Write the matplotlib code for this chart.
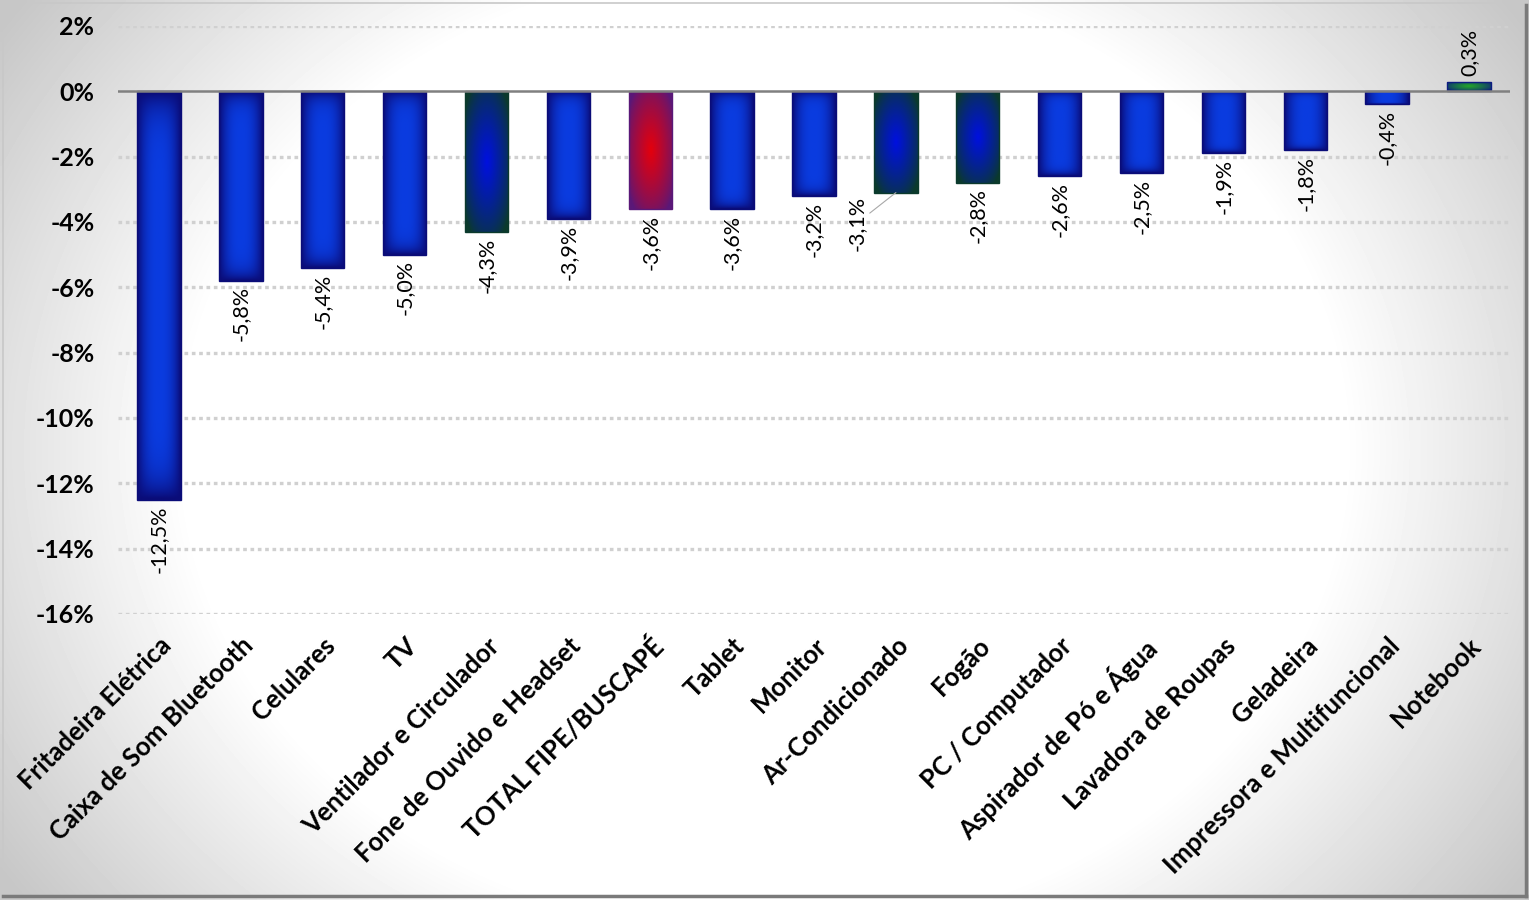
import numpy as np
import matplotlib
matplotlib.use("Agg")
import matplotlib.pyplot as plt
from matplotlib.patches import Rectangle
from matplotlib.colors import to_rgb
from matplotlib.ticker import FuncFormatter, MultipleLocator

plt.rcParams['font.family'] = ['Lato', 'DejaVu Sans']

# dados
categorias = ['Fritadeira Elétrica', 'Caixa de Som Bluetooth', 'Celulares', 'TV',
              'Ventilador e Circulador', 'Fone de Ouvido e Headset', 'TOTAL FIPE/BUSCAPÉ',
              'Tablet', 'Monitor', 'Ar-Condicionado', 'Fogão', 'PC / Computador',
              'Aspirador de Pó e Água', 'Lavadora de Roupas', 'Geladeira',
              'Impressora e Multifuncional', 'Notebook']
variacao = [-12.5, -5.8, -5.4, -5.0, -4.3, -3.9, -3.6, -3.6, -3.2, -3.1, -2.8,
            -2.6, -2.5, -1.9, -1.8, -0.4, 0.3]
estilo = ['azul', 'azul', 'azul', 'azul', 'verde', 'azul', 'vermelho', 'azul', 'azul',
          'verde', 'verde', 'azul', 'azul', 'azul', 'azul', 'azul', 'notebook']

# cores (borda, centro)
paleta = {
    'azul': ('#0a0c78', '#0a3ce0'),
    'verde': ('#0b3a2c', '#0010e0'),
    'vermelho': ('#5a1878', '#e4000c'),
    'notebook': ('#0c1c80', '#22a828'),
}


def gradiente(tipo, nx=60, ny=120):
    borda, centro = np.array(to_rgb(paleta[tipo][0])), np.array(to_rgb(paleta[tipo][1]))
    u = np.linspace(-1, 1, nx)[None, :]
    v = np.linspace(-1, 1, ny)[:, None]
    if tipo == 'azul':
        f = (1 - np.abs(u) ** 2.5) * (1 - np.abs(v) ** 10)
    else:
        f = np.clip(1 - np.sqrt(u ** 2 + v ** 2) / 1.25, 0, 1) ** 0.8
    return borda + (centro - borda) * f[..., None]


fig = plt.figure(figsize=(15.29, 9), dpi=100)

# fundo com vinheta cinza
bg = fig.add_axes([0, 0, 1, 1], zorder=-10)
gx, gy = np.meshgrid(np.linspace(0, 1, 400), np.linspace(0, 1, 240))
d = np.sqrt(((gx - 0.5) * 2) ** 2 + 0.5 * ((gy - 0.5) * 2) ** 2)
cinza = 1 - 0.22 * np.clip((d - 0.76) / 0.44, 0, 1) ** 1.0
bg.imshow(cinza, cmap='gray', vmin=0, vmax=1, aspect='auto', extent=(0, 1, 0, 1),
          interpolation='bilinear')
bg.set_xlim(0, 1)
bg.set_ylim(0, 1)
bg.axis('off')
fig.patches.append(Rectangle((0.002, 0.004), 0.995, 0.993, transform=fig.transFigure,
                             fill=False, edgecolor='#c8c8c8', lw=1.2))
fig.add_artist(plt.Line2D([0.998, 0.998], [0.004, 0.995], transform=fig.transFigure,
                          color='#7a7a7a', lw=2.5))
fig.add_artist(plt.Line2D([0.002, 0.998], [0.005, 0.005], transform=fig.transFigure,
                          color='#7a7a7a', lw=2.5))

ax = fig.add_axes([118 / 1529, 1 - 614 / 900, 1392 / 1529, 588 / 900])
ax.set_facecolor('none')
x = np.arange(len(categorias))
barras = ax.bar(x, variacao, width=0.53, color='none', edgecolor='none', zorder=3)

for rect, tipo in zip(barras, estilo):
    x0, w = rect.get_x(), rect.get_width()
    y0, h = rect.get_y(), rect.get_height()
    y_lo, y_hi = min(y0, y0 + h), max(y0, y0 + h)
    im = ax.imshow(gradiente(tipo), extent=(x0, x0 + w, y_lo, y_hi), aspect='auto',
                   interpolation='bilinear', zorder=3)
    im.set_clip_path(rect)
    ax.add_patch(Rectangle((x0, y_lo), w, y_hi - y_lo, fill=False,
                           edgecolor=paleta[tipo][0], lw=1.0, zorder=4))

for i, v in enumerate(variacao):
    txt = f"{v:.1f}".replace('.', ',') + '%'
    if categorias[i] == 'Ar-Condicionado':
        ax.annotate(txt, (i, v), xytext=(-28, -22), textcoords='offset points',
                    rotation=90, ha='center', va='center', fontsize=15.5,
                    arrowprops=dict(arrowstyle='-', color='#a8a8a8', lw=0.8,
                                    shrinkA=0, shrinkB=0), zorder=5)
    elif v < 0:
        ax.annotate(txt, (i, v), xytext=(0, -4), textcoords='offset points',
                    rotation=90, ha='center', va='top', fontsize=15.5, zorder=5)
    else:
        ax.annotate(txt, (i, v), xytext=(0, 4), textcoords='offset points',
                    rotation=90, ha='center', va='bottom', fontsize=15.5, zorder=5)

ax.set_xlim(-0.5, len(categorias) - 0.5)
ax.set_ylim(-16, 2)
ax.yaxis.set_major_locator(MultipleLocator(2))
ax.yaxis.set_major_formatter(FuncFormatter(lambda val, pos: f"{val:.0f}%"))
for g in np.arange(-16, 3, 2):
    if g != 0:
        ax.axhline(g, color='#d0d0d0', lw=2.4, linestyle=(0, (1.1, 1.1)), zorder=1)
ax.axhline(0, color='#808080', lw=1.8, zorder=5)

ax.set_xticks(x)
ax.set_xticklabels(categorias, rotation=45, ha='right', va='top', rotation_mode='anchor',
                   fontsize=18.5, fontweight='bold')
for lab in ax.get_yticklabels():
    lab.set_fontsize(18)
    lab.set_fontweight('bold')
ax.tick_params(axis='both', length=0)
ax.tick_params(axis='y', pad=17)
ax.tick_params(axis='x', pad=14)
for s in ax.spines.values():
    s.set_visible(False)

fig.savefig('out.png', dpi=100)
